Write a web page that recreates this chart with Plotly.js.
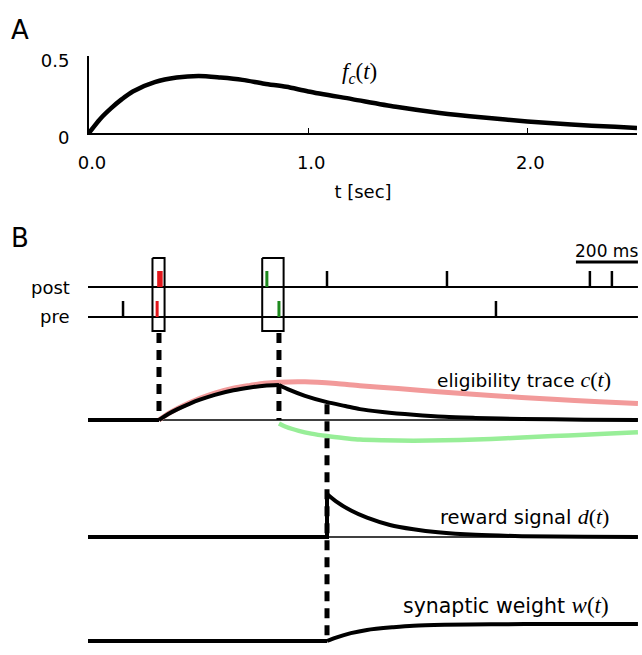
<!DOCTYPE html>
<html><head><meta charset="utf-8">
<script src="https://cdn.plot.ly/plotly-3.0.1.min.js"></script>
<style>html,body{margin:0;padding:0;background:#fff}</style>
</head><body><div id="chart" style="width:642px;height:655px"></div>
<script>
// ---------------- DATA ----------------
// Panel A: eligibility kernel f_c(t), t in seconds
const fcT = [0, 0.05, 0.1, 0.15, 0.2, 0.3, 0.4, 0.5, 0.6, 0.7, 0.8, 0.9, 1.0, 1.2, 1.4, 1.6, 1.8, 2.0, 2.2, 2.4, 2.5];
const fcV = [0, 0.09, 0.16, 0.22, 0.27, 0.33, 0.36, 0.37, 0.36, 0.345, 0.32, 0.30, 0.27, 0.22, 0.17, 0.13, 0.10, 0.075, 0.055, 0.04, 0.032];
const fcXTicks = [0, 1, 2];
const fcXTickText = ['0.0', '1.0', '2.0'];
const fcYTicks = [0, 0.5];
const fcYTickText = ['0', '0.5'];

// Panel B: spike trains (ms)
const preSpikes = [113, 1316];
const postSpikes = [771, 1158, 1619, 1690];
const ltpPre = [223];   // red pair (pre before post)
const ltpPost = [232];
const ltdPost = [577];  // green pair (post before pre)
const ltdPre = [616];
const rowLabels = ['post', 'pre'];
const timeWindow = [0, 1774];
const scaleBarMs = [200];

// eligibility trace c(t) (arbitrary units)
const cBlackT = [0, 229, 259, 289, 329, 361, 409, 469, 523, 569, 616, 650, 700, 771, 830, 877, 950, 1050, 1150, 1250, 1400, 1600, 1774];
const cBlackV = [0, 0, 0.17, 0.31, 0.47, 0.58, 0.72, 0.85, 0.93, 0.98, 1.0, 0.86, 0.69, 0.51, 0.40, 0.31, 0.23, 0.15, 0.09, 0.06, 0.03, 0.01, 0];
const cRedT = [229, 259, 289, 329, 361, 409, 469, 523, 569, 616, 700, 800, 877, 1000, 1129, 1300, 1500, 1650, 1774];
const cRedV = [0, 0.18, 0.33, 0.5, 0.62, 0.77, 0.91, 0.99, 1.05, 1.08, 1.09, 1.04, 0.98, 0.9, 0.81, 0.7, 0.59, 0.52, 0.47];
const cGreenT = [616, 640, 680, 720, 771, 830, 877, 950, 1050, 1150, 1250, 1350, 1450, 1550, 1650, 1774];
const cGreenV = [-0.1, -0.2, -0.31, -0.39, -0.46, -0.52, -0.56, -0.58, -0.59, -0.58, -0.56, -0.52, -0.48, -0.44, -0.4, -0.35];
const pairingTimes = [229, 616];

// reward signal d(t)
const dT = [0, 771, 771, 800, 850, 900, 974, 1050, 1129, 1250, 1400, 1600, 1774];
const dV = [0, 0, 1.0, 0.83, 0.61, 0.45, 0.28, 0.18, 0.11, 0.05, 0.02, 0.005, 0];
const rewardTime = [771];

// synaptic weight w(t)
const wT = [0, 771, 800, 848, 900, 985, 1050, 1150, 1300, 1500, 1774];
const wV = [0, 0, 0.2, 0.46, 0.65, 0.81, 0.9, 0.95, 0.98, 1.0, 1.0];

// ---------------- LAYOUT CONSTANTS ----------------
const W = 642, H = 655;
const X0 = 88, PXMS = 0.31;          // time axis origin (px) and px per ms
const rowY = {post: 287, pre: 317};
const spikeH = 16;
const boxTop = 258, boxBot = 331, boxPad = 15;
const cBase = 420, cAmp = 35;
const dBase = 537, dAmp = 43;
const wBase = 641, wAmp = 17;
const dashTop = 333;
const SANS = 'DejaVu Sans';
const SERIF = 'Liberation Serif';
const RED_SPIKE = '#e3161b', GREEN_SPIKE = '#1e8a1e';
const RED_TRACE = '#f29a9a', GREEN_TRACE = '#98ee98';

// ---------------- HELPERS ----------------
function spikeXY(times, base) {
  const x = [], y = [];
  times.forEach(t => { x.push(t, t, null); y.push(base, base - spikeH, null); });
  return {x, y};
}
function lineTrace(x, y, color, width, extra) {
  return Object.assign({type: 'scatter', mode: 'lines', x, y, xaxis: 'x2', yaxis: 'y2',
    line: {color, width}, hoverinfo: 'skip', showlegend: false}, extra || {});
}
// split series at break times so kinks stay sharp, smooth each piece
function segments(T, V, breaks, base, amp, color, width) {
  const cuts = [T[0], ...breaks, T[T.length - 1]];
  const out = [];
  for (let k = 0; k < cuts.length - 1; k++) {
    const xs = [], ys = [];
    for (let i = 0; i < T.length; i++) {
      if (T[i] >= cuts[k] && T[i] <= cuts[k + 1]) {
        if (xs.length && T[i] === xs[xs.length - 1]) { xs.pop(); ys.pop(); }
        if (k > 0 && xs.length === 0 && i + 1 < T.length && T[i + 1] === T[i]) continue;
        xs.push(T[i]); ys.push(base - V[i] * amp);
      }
    }
    out.push(lineTrace(xs, ys, color, width, {line: {color, width, shape: 'spline', smoothing: 0.8}}));
  }
  return out;
}
function ann(text, px, py, size, xanchor, family) {
  return {text, xref: 'paper', yref: 'paper', x: px / W, y: 1 - py / H, showarrow: false,
    xanchor: xanchor || 'center', yanchor: 'middle',
    font: {family: family || SANS, size, color: '#000'}};
}
const M = (s, size) => `<span style="font-family:${SERIF};font-size:${size}px">${s}</span>`;

// ---------------- TRACES ----------------
const traces = [];
// Panel A
traces.push({type: 'scatter', mode: 'lines', x: fcT, y: fcV, xaxis: 'x', yaxis: 'y',
  line: {color: '#000', width: 4.5, shape: 'spline', smoothing: 0.8}, cliponaxis: false,
  hoverinfo: 'skip', showlegend: false});

// raster lines
rowLabels.forEach(r => traces.push(lineTrace(timeWindow, [rowY[r], rowY[r]], '#000', 2)));
// black spikes
let s = spikeXY(postSpikes, rowY.post); traces.push(lineTrace(s.x, s.y, '#000', 2.5));
s = spikeXY(preSpikes, rowY.pre); traces.push(lineTrace(s.x, s.y, '#000', 2.5));
// coloured pairs
s = spikeXY(ltpPost, rowY.post); traces.push(lineTrace(s.x, s.y, RED_SPIKE, 5.5));
s = spikeXY(ltpPre, rowY.pre); traces.push(lineTrace(s.x, s.y, RED_SPIKE, 3));
s = spikeXY(ltdPost, rowY.post); traces.push(lineTrace(s.x, s.y, GREEN_SPIKE, 3));
s = spikeXY(ltdPre, rowY.pre); traces.push(lineTrace(s.x, s.y, GREEN_SPIKE, 3));
// boxes around pairs
[[ltpPre[0], ltpPost[0]], [ltdPost[0], ltdPre[0]]].forEach(p => {
  const a = Math.min(...p) - boxPad, b = Math.max(...p) + boxPad;
  traces.push(lineTrace([a, b, b, a, a], [boxTop, boxTop, boxBot, boxBot, boxTop], '#000', 2));
});
// scale bar
traces.push(lineTrace([timeWindow[1] - scaleBarMs[0], timeWindow[1]], [262, 262], '#000', 3));

// thin baselines
traces.push(lineTrace(timeWindow, [cBase, cBase], '#000', 1.7));
traces.push(lineTrace(timeWindow, [dBase, dBase], '#000', 1.7));

// eligibility traces
traces.push(...segments(cRedT, cRedV, [], cBase, cAmp, RED_TRACE, 5));
traces.push(...segments(cGreenT, cGreenV, [], cBase, cAmp, GREEN_TRACE, 4.5));
traces.push(...segments(cBlackT, cBlackV, pairingTimes, cBase, cAmp, '#000', 4));
// reward
traces.push(lineTrace(dT.slice(0, 3), dV.slice(0, 3).map(v => dBase - v * dAmp), '#000', 4));
traces.push(lineTrace(dT.slice(2), dV.slice(2).map(v => dBase - v * dAmp), '#000', 4,
  {line: {color: '#000', width: 4, shape: 'spline', smoothing: 0.8}}));
// weight
traces.push(...segments(wT, wV, rewardTime, wBase, wAmp, '#000', 4));

// dashed lines
const dash = '10px,7px';
pairingTimes.forEach(t => traces.push(lineTrace([t, t], [dashTop, cBase], '#000', 5, {line: {color: '#000', width: 5, dash}})));
const cAtReward = cBlackV[cBlackT.indexOf(rewardTime[0])];
traces.push(lineTrace([rewardTime[0], rewardTime[0]], [cBase - cAtReward * cAmp + 2, wBase], '#000', 5, {line: {color: '#000', width: 5, dash}}));

// ---------------- LAYOUT ----------------
const layout = {
  width: W, height: H, margin: {l: 0, r: 0, t: 0, b: 0},
  paper_bgcolor: '#fff', plot_bgcolor: 'rgba(0,0,0,0)',
  font: {family: SANS, size: 17, color: '#000'},
  showlegend: false,
  xaxis: {domain: [89 / W, 637 / W], range: [0, 2.5], anchor: 'y',
    showline: true, linewidth: 2, linecolor: '#000', showgrid: false, zeroline: false,
    ticks: 'inside', ticklen: 5, tickwidth: 1.2, tickcolor: '#000',
    tickvals: fcXTicks, ticktext: fcXTickText, tickfont: {family: SANS, size: 18},
    ticklabelstandoff: 12, ticklabelshift: 3,
    title: {text: 't [sec]', font: {family: SANS, size: 18}, standoff: 14}},
  yaxis: {domain: [(H - 133) / H, (H - 56) / H], range: [0, 0.5], anchor: 'x',
    showline: true, linewidth: 2, linecolor: '#000', showgrid: false, zeroline: false,
    ticks: 'inside', ticklen: 5, tickwidth: 1.5, tickcolor: '#000',
    tickvals: fcYTicks, ticktext: fcYTickText, tickfont: {family: SANS, size: 18},
    ticklabelstandoff: 14, ticklabelshift: 5},
  xaxis2: {domain: [0, 1], range: [-X0 / PXMS, (W - X0) / PXMS], anchor: 'y2', visible: false, fixedrange: true},
  yaxis2: {domain: [0, 1], range: [H, 0], anchor: 'x2', visible: false, fixedrange: true},
  annotations: [
    ann('A', 20, 30, 26),
    ann('B', 20, 238, 26),
    ann('post', 72, rowY.post, 18, 'right'),
    ann('pre', 72, rowY.pre, 18, 'right'),
    ann('200 ms', 606, 251, 17),
    ann('<i>f</i><sub><i>c</i></sub>(<i>t</i>)', 360, 73, 23, 'center', SERIF),
    ann('eligibility trace ' + M('<i>c</i>(<i>t</i>)', 22), 613, 379, 18.5, 'right'),
    ann('reward signal ' + M('<i>d</i>(<i>t</i>)', 22), 611, 516, 19.5, 'right'),
    ann('synaptic weight ' + M('<i>w</i>(<i>t</i>)', 23), 611, 605, 20.5, 'right')
  ]
};

Plotly.newPlot('chart', traces, layout, {staticPlot: true, displayModeBar: false});
</script></body></html>
